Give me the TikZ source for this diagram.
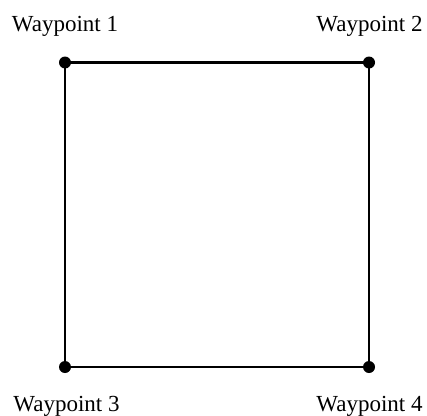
\documentclass[tikz,border=0pt]{standalone}
\usepackage{fontspec}
\setmainfont{Liberation Serif}
\usetikzlibrary{positioning}

\begin{document}
\begin{tikzpicture}[x=1pt,y=-1pt,
  wpdot/.style={circle,fill=black,inner sep=0pt,minimum size=12pt},
  wplabel/.style={anchor=base,font=\fontsize{23}{27}\selectfont,inner sep=0pt},
  wpedge/.style={line width=2.3pt}
]
  \useasboundingbox (0,0) rectangle (427,415);
  % Waypoints
  \node[wpdot] (w1) at (65,62.5) {};
  \node[wpdot] (w2) at (369,62.5) {};
  \node[wpdot] (w3) at (65,367) {};
  \node[wpdot] (w4) at (369,367) {};
  % Path
  \draw[wpedge] (w1.center) -- (w2.center) -- (w4.center) -- (w3.center) -- cycle;
  % Labels
  \node[wplabel] (l1) at (65,31) {Waypoint 1};
  \node[wplabel] (l2) at (369.5,31) {Waypoint 2};
  \node[wplabel] (l3) at (66.5,411) {Waypoint 3};
  \node[wplabel] (l4) at (369.5,411) {Waypoint 4};
\end{tikzpicture}
\end{document}
